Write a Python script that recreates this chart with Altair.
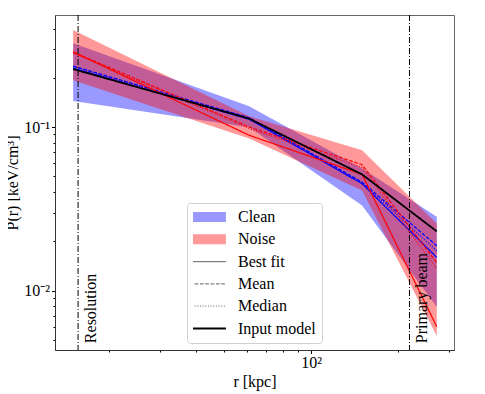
import altair as alt
import pandas as pd

# ---- data ----
R = [15, 61, 150, 272]                      # kpc
INPUT_MODEL = [0.226, 0.1126, 0.0513, 0.0230]
CLEAN_BEST = [0.229, 0.1115, 0.0450, 0.01594]
CLEAN_MEAN = [0.2357, 0.1139, 0.0460, 0.0188]
CLEAN_MEDIAN = [0.234, 0.1131, 0.0455, 0.0175]
NOISE_BEST = [0.288, 0.0890, 0.0513, 0.00601]
NOISE_MEAN = [0.287, 0.100, 0.0588, 0.0148]
NOISE_MEDIAN = [0.283, 0.098, 0.0566, 0.0136]
CLEAN_LO = [0.1444, 0.0996, 0.0331, 0.00794]
CLEAN_HI = [0.325, 0.134, 0.0558, 0.0283]
NOISE_LO = [0.1934, 0.0852, 0.0409, 0.00527]
NOISE_HI = [0.392, 0.1163, 0.0720, 0.0257]

VLINE_R = [15.6, 218.8]
VLINE_LABELS = ["Resolution", "Primary beam"]
LABEL_R = [17.3, 241.0]
LABEL_P = [0.00477, 0.00477]

ITEMS = ["Clean", "Noise", "Best fit", "Mean", "Median", "Input model"]
LEGEND_COLORS = ["#0000ff", "#ff0000", "#808080", "#808080", "#808080", "#000000"]
LEGEND_DASHES = [[1, 0], [1, 0], [1, 0], [3.7, 1.6], [1, 1.65], [1, 0]]

X_TICKS = [20, 30, 40, 50, 60, 70, 80, 90, 100, 200, 300]
Y_TICKS = [0.005, 0.006, 0.007, 0.008, 0.009, 0.01,
           0.02, 0.03, 0.04, 0.05, 0.06, 0.07, 0.08, 0.09, 0.1,
           0.2, 0.3, 0.4]
X_DOMAIN = [12.98, 312]
Y_DOMAIN = [0.00433, 0.484]

SERIF = "Liberation Serif"
FS = 16

# ---- tables ----
bands = {
    "Clean": pd.DataFrame({"r": R, "lo": CLEAN_LO, "hi": CLEAN_HI}),
    "Noise": pd.DataFrame({"r": R, "lo": NOISE_LO, "hi": NOISE_HI}),
}
lines = [
    (CLEAN_BEST, "#0000ff", [1, 0], 1.2),
    (CLEAN_MEAN, "#0000ff", [3.7, 1.6], 1.2),
    (CLEAN_MEDIAN, "#0000ff", [1, 1.65], 1.2),
    (NOISE_BEST, "#ff0000", [1, 0], 1.2),
    (NOISE_MEAN, "#ff0000", [3.7, 1.6], 1.2),
    (NOISE_MEDIAN, "#ff0000", [1, 1.65], 1.2),
    (INPUT_MODEL, "#000000", [1, 0], 1.8),
]

xscale = alt.Scale(type="log", domain=X_DOMAIN, nice=False)
yscale = alt.Scale(type="log", domain=Y_DOMAIN, nice=False)

xaxis = alt.Axis(
    values=X_TICKS,
    labelExpr="datum.value == 100 ? '10²' : ''",
    tickSize={"condition": {"test": "datum.value == 100", "value": 3.5}, "value": 2},
    grid=False, labelFont=SERIF, labelFontSize=FS, labelColor="black",
    tickColor="black", domainColor="#333", labelPadding=1, labelFlush=False,
    title="r [kpc]", titleFont=SERIF, titleFontSize=FS, titleFontWeight="normal",
    titleColor="black", titlePadding=3,
)
yaxis = alt.Axis(
    values=Y_TICKS,
    labelExpr="datum.value == 0.1 ? '10⁻¹' : (datum.value == 0.01 ? '10⁻²' : '')",
    tickSize={"condition": {"test": "datum.value == 0.1 || datum.value == 0.01", "value": 3.5}, "value": 2},
    grid=False, labelFont=SERIF, labelFontSize=FS, labelColor="black",
    tickColor="black", domainColor="#333", labelPadding=2,
    title="P(r) [keV/cm³]", titleFont=SERIF, titleFontSize=FS, titleFontWeight="normal",
    titleColor="black", titlePadding=3,
)

X = alt.X("r:Q", scale=xscale, axis=xaxis)

layers = []
for name, color in [("Clean", "#0000ff"), ("Noise", "#ff0000")]:
    layers.append(
        alt.Chart(bands[name]).mark_area(color=color, fillOpacity=0.4, strokeWidth=0).encode(
            x=X,
            y=alt.Y("lo:Q", scale=yscale, axis=yaxis),
            y2="hi:Q",
        )
    )

for vals, color, dash, width in lines:
    df = pd.DataFrame({"r": R, "p": vals})
    layers.append(
        alt.Chart(df).mark_line(color=color, strokeDash=dash, strokeWidth=width).encode(
            x=X, y=alt.Y("p:Q", scale=yscale, axis=yaxis)
        )
    )

vdf = pd.DataFrame({"r": VLINE_R})
layers.append(
    alt.Chart(vdf).mark_rule(color="black", strokeDash=[6, 2, 1, 2], strokeWidth=1).encode(x=X)
)

tdf = pd.DataFrame({"r": LABEL_R, "p": LABEL_P, "label": VLINE_LABELS})
layers.append(
    alt.Chart(tdf).mark_text(angle=270, align="left", baseline="middle", font=SERIF,
                             fontSize=FS, color="black").encode(
        x=X, y=alt.Y("p:Q", scale=yscale, axis=yaxis), text="label:N"
    )
)

legend = alt.Legend(
    title=None, orient="none", legendX=132, legendY=188,
    symbolType="stroke", symbolSize=1750, symbolOffset=4,
    symbolStrokeWidth={"expr": "(datum.value == 'Clean' || datum.value == 'Noise') ? 10 : (datum.value == 'Input model' ? 2 : 1.2)"},
    symbolOpacity={"expr": "(datum.value == 'Clean' || datum.value == 'Noise') ? 0.4 : 1"},
    labelFont=SERIF, labelFontSize=16, labelColor="black", labelOffset=25, labelLimit=200,
    clipHeight=16, rowPadding=6.3, padding=6,
    fillColor="white", strokeColor="#d0d0d0", cornerRadius=3,
)
ldf = pd.DataFrame({"r": pd.Series([], dtype=float), "p": pd.Series([], dtype=float),
                    "item": pd.Series([], dtype=str)})
layers.append(
    alt.Chart(ldf).mark_line().encode(
        x=X, y=alt.Y("p:Q", scale=yscale, axis=yaxis),
        color=alt.Color("item:N", scale=alt.Scale(domain=ITEMS, range=LEGEND_COLORS), legend=legend),
        strokeDash=alt.StrokeDash("item:N", scale=alt.Scale(domain=ITEMS, range=LEGEND_DASHES), legend=legend),
    )
)

chart = alt.layer(*layers).properties(
    width=399, height=335, autosize="none",
    padding={"left": 47, "top": 7, "right": 22, "bottom": 44},
).configure_view(stroke="#666", strokeWidth=1).configure_legend(
    labelFont=SERIF, labelFontSize=16
)

chart.save("out.html", embed_options={"renderer": "svg", "actions": False})
